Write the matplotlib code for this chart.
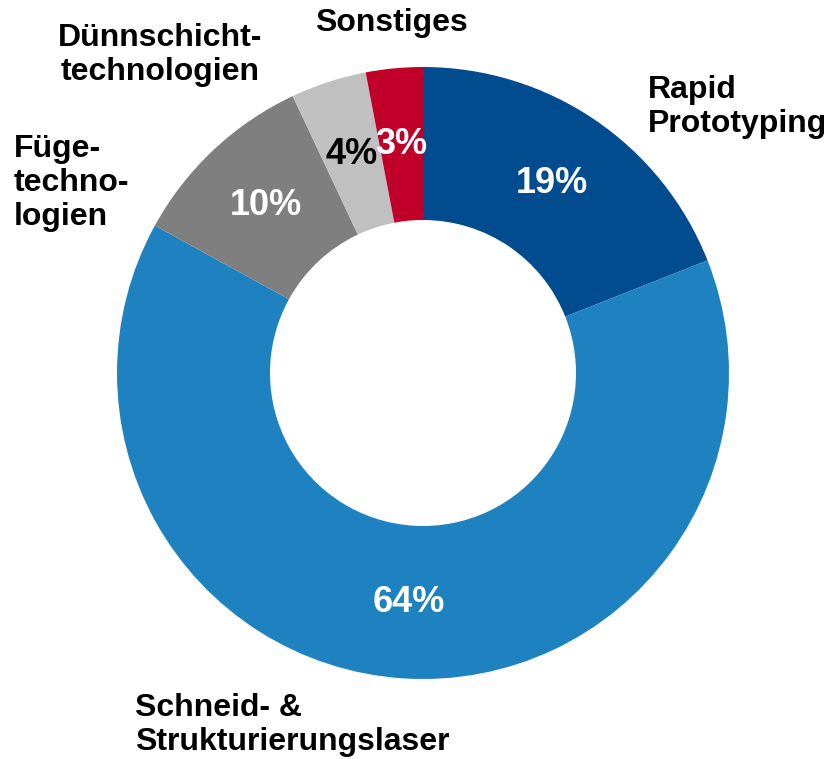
import matplotlib.pyplot as plt

categories = ['Rapid\nPrototyping', 'Schneid- &\nStrukturierungslaser', 'Füge-\ntechno-\nlogien',
              'Dünnschicht-\ntechnologien', 'Sonstiges']
shares = [19, 64, 10, 4, 3]
colors = ['#004C8F', '#1F82C0', '#7F7F7F', '#C0C0C0', '#C00028']
pct_colors = ['white', 'white', 'white', 'black', 'white']

plt.rcParams['font.family'] = ['Liberation Sans', 'DejaVu Sans']

W, H = 829, 759
fig = plt.figure(figsize=(W / 100, H / 100), dpi=100)
ax = fig.add_axes([0, 0, 1, 1])

R = 306
wedges, texts, autotexts = ax.pie(shares, colors=colors, startangle=90, counterclock=False,
                                  center=(423, H - 373), radius=R, frame=True,
                                  wedgeprops=dict(width=R * 0.5, linewidth=0),
                                  autopct='%d%%', pctdistance=0.75)
ax.set_xlim(0, W)
ax.set_ylim(0, H)
ax.set_aspect('equal')
ax.axis('off')

for t, c in zip(autotexts, pct_colors):
    t.set_color(c)
    t.set_fontsize(26)
    t.set_fontweight('bold')

# category labels, positioned like the original
label_pos = [(648, 107, 'left'), (135, 725, 'left'), (14, 183, 'left'),
             (160, 55, 'center'), (391, 23, 'center')]
for name, (x, y, ha) in zip(categories, label_pos):
    ax.text(x, H - y, name, ha=ha, va='center', fontsize=23, fontweight='bold',
            linespacing=1.17, color='black')

fig.savefig('out.png', dpi=100)
